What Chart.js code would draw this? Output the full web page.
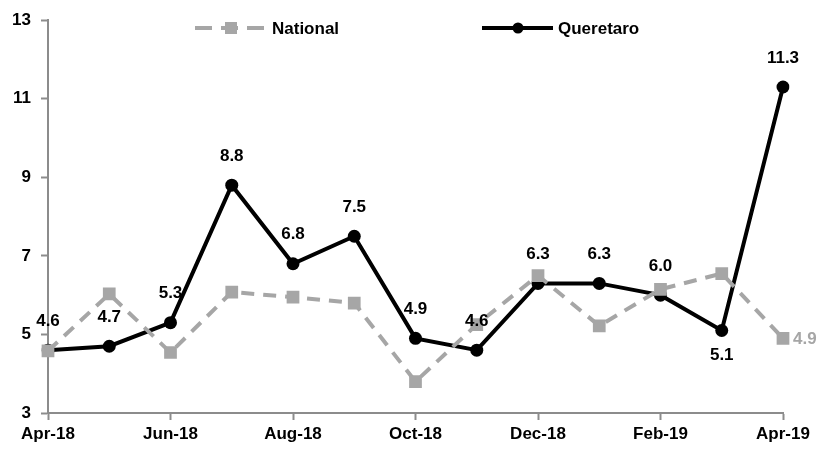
<!DOCTYPE html>
<html>
<head>
<meta charset="utf-8">
<script src="https://cdn.jsdelivr.net/npm/chart.js@4"></script>
<style>
  html, body { margin: 0; padding: 0; background: #fff; }
  #wrap { width: 817px; height: 451px; }
</style>
</head>
<body>
<div id="wrap"><canvas id="lineChart"></canvas></div>
<script>
const months = ["Apr-18","May-18","Jun-18","Jul-18","Aug-18","Sep-18","Oct-18",
                "Nov-18","Dec-18","Jan-19","Feb-19","Mar-19","Apr-19"];
const national = [4.58, 6.03, 4.54, 6.08, 5.95, 5.8, 3.8, 5.25, 6.5, 5.22, 6.15, 6.55, 4.9];
const queretaro = [4.6, 4.7, 5.3, 8.8, 6.8, 7.5, 4.9, 4.6, 6.3, 6.3, 6.0, 5.1, 11.3];
const yTicks = [3, 5, 7, 9, 11, 13];

const FONT = "'Liberation Sans', Arial, sans-serif";
const GREY = '#a6a6a6';
const AXIS = '#8c8c8c';

/* labels + legend drawn on the canvas */
const labelPlugin = {
    id: 'labelPlugin',
    afterDatasetsDraw(chart) {
        const ctx = chart.ctx;
        ctx.save();
        ctx.font = 'bold 17px ' + FONT;
        ctx.textAlign = 'center';
        ctx.textBaseline = 'middle';

        // queretaro values
        const qm = chart.getDatasetMeta(1);
        qm.data.forEach((pt, i) => {
            ctx.fillStyle = '#000';
            const below = i === 11;
            ctx.fillText(queretaro[i].toFixed(1), pt.x, below ? pt.y + 25 : pt.y - 29);
        });

        // last national value
        const nm = chart.getDatasetMeta(0);
        const last = nm.data[nm.data.length - 1];
        ctx.fillStyle = GREY;
        ctx.textAlign = 'left';
        ctx.fillText(national[national.length - 1].toFixed(1), last.x + 10, last.y + 1);

        // legend
        const ly = 28;
        ctx.lineCap = 'butt';
        ctx.strokeStyle = GREY;
        ctx.lineWidth = 4;
        ctx.setLineDash([17, 9]);
        ctx.beginPath();
        ctx.moveTo(195, ly);
        ctx.lineTo(266, ly);
        ctx.stroke();
        ctx.setLineDash([]);
        ctx.fillStyle = GREY;
        ctx.fillRect(225, ly - 6, 12, 12);
        ctx.fillStyle = '#000';
        ctx.textAlign = 'left';
        ctx.fillText('National', 272, ly + 1);

        ctx.strokeStyle = '#000';
        ctx.beginPath();
        ctx.moveTo(482, ly);
        ctx.lineTo(553, ly);
        ctx.stroke();
        ctx.beginPath();
        ctx.arc(518, ly, 5.5, 0, Math.PI * 2);
        ctx.fill();
        ctx.fillText('Queretaro', 558, ly + 1);
        ctx.restore();
    }
};

new Chart(document.getElementById('lineChart'), {
    type: 'line',
    data: {
        labels: months,
        datasets: [{
            label: 'National',
            data: national,
            borderColor: GREY,
            backgroundColor: GREY,
            borderWidth: 4,
            borderDash: [13, 9],
            pointStyle: 'rect',
            pointRadius: 9,
            pointBorderWidth: 0,
            tension: 0
        }, {
            label: 'Queretaro',
            data: queretaro,
            borderColor: '#000',
            backgroundColor: '#000',
            borderWidth: 4,
            pointStyle: 'circle',
            pointRadius: 6.5,
            pointBorderWidth: 0,
            tension: 0
        }]
    },
    options: {
        responsive: true,
        maintainAspectRatio: false,
        animation: false,
        layout: { padding: { top: 15, right: 34, left: 0, bottom: 0 } },
        plugins: { legend: { display: false }, tooltip: { enabled: false } },
        scales: {
            x: {
                offset: false,
                grid: {
                    display: true, drawOnChartArea: false, drawTicks: true,
                    tickLength: 7, tickWidth: 2,
                    tickColor: ctx => (ctx.index % 2 === 0 ? AXIS : 'rgba(0,0,0,0)')
                },
                border: { color: AXIS, width: 2 },
                ticks: {
                    autoSkip: false, maxRotation: 0, padding: 4,
                    color: '#000', font: { family: FONT, size: 17, weight: 'bold' },
                    callback: function(v, i) { return i % 2 === 0 ? months[i] : ''; }
                },
                afterFit: function(s) { s.height = 38; }
            },
            y: {
                min: 3, max: 13,
                afterBuildTicks: function(s) { s.ticks = yTicks.map(v => ({ value: v })); },
                grid: {
                    display: true, drawOnChartArea: false, drawTicks: true,
                    tickLength: 7, tickWidth: 2, tickColor: AXIS
                },
                border: { color: AXIS, width: 2 },
                ticks: {
                    padding: 10,
                    color: '#000', font: { family: FONT, size: 17, weight: 'bold' }
                },
                afterFit: function(s) { s.width = 48; }
            }
        }
    },
    plugins: [labelPlugin]
});
</script>
</body>
</html>
